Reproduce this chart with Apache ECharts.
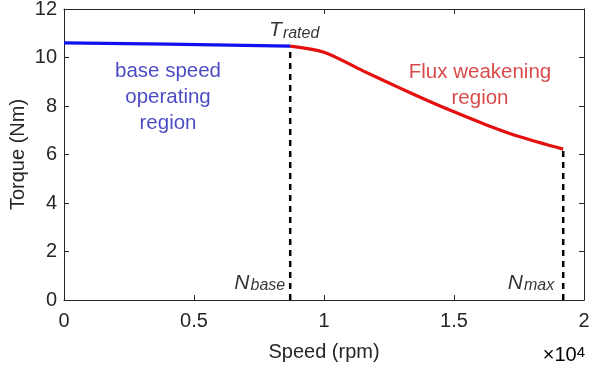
<!DOCTYPE html>
<html>
<head>
<meta charset="utf-8">
<script src="https://cdn.jsdelivr.net/npm/echarts@6/dist/echarts.min.js"></script>
<style>
  html, body { margin: 0; padding: 0; background: #fff; }
  #chart { width: 590px; height: 371px; }
</style>
</head>
<body>
<div id="chart"></div>
<script>
// Torque-speed envelope of the motor drive
var baseSpeed = [0, 4000, 8700];
var baseTorque = [10.6, 10.55, 10.47];

var fluxSpeed = [8700, 10000, 11500, 12800, 14000, 15000, 16250, 17500, 19200];
var fluxTorque = [10.47, 10.22, 9.45, 8.8, 8.22, 7.76, 7.22, 6.74, 6.22];

var xTicks = [0, 5000, 10000, 15000, 20000];
var xTickLabels = ['0', '0.5', '1', '1.5', '2'];
var yTicks = [0, 2, 4, 6, 8, 10, 12];

var nBase = 8700, tRated = 10.47;
var nMax = 19200, tMax = 6.22;

function pairs(xs, ys) {
  return xs.map(function (x, i) { return [x, ys[i]]; });
}

var FONT = '"Liberation Sans", Arial, Helvetica, sans-serif';
var INK = '#262626';

// italic symbol with a lowered subscript
var subRich = {
  big: { fontFamily: FONT, fontStyle: 'italic', fontSize: 21, lineHeight: 21, color: '#000', verticalAlign: 'top' },
  sub: { fontFamily: FONT, fontStyle: 'italic', fontSize: 16, lineHeight: 16, color: '#000', verticalAlign: 'bottom', padding: [15, 0, 0, 1] }
};

var chart = echarts.init(document.getElementById('chart'), null, { renderer: 'canvas' });

var boxAxis = {
  axisLine: { show: true, onZero: false, lineStyle: { color: INK, width: 1 } },
  axisTick: { show: true, inside: true, length: 5, lineStyle: { color: INK } },
  splitLine: { show: false }
};

chart.setOption({
  animation: false,
  backgroundColor: '#fff',
  textStyle: { fontFamily: FONT },
  grid: { left: 64, right: 6, top: 9, bottom: 71, containLabel: false, outerBoundsMode: 'none' },
  xAxis: [Object.assign({
    type: 'value', min: 0, max: 20000, interval: 5000,
    name: 'Speed (rpm)', nameLocation: 'middle', nameGap: 42, nameMoveOverlap: false,
    nameTextStyle: { fontSize: 20, color: INK, fontFamily: FONT },
    axisLabel: { fontSize: 20, color: INK, margin: 11, fontFamily: FONT,
      formatter: function (v) { var i = xTicks.indexOf(v); return i >= 0 ? xTickLabels[i] : ''; } }
  }, boxAxis), Object.assign({
    type: 'value', position: 'top', min: 0, max: 20000, interval: 5000,
    axisLabel: { show: false }
  }, boxAxis)],
  yAxis: [Object.assign({
    type: 'value', min: yTicks[0], max: yTicks[yTicks.length - 1], interval: 2,
    name: 'Torque (Nm)', nameLocation: 'middle', nameGap: 36, nameMoveOverlap: false,
    nameTextStyle: { fontSize: 20, color: INK, fontFamily: FONT },
    axisLabel: { fontSize: 20, color: INK, margin: 7, fontFamily: FONT }
  }, boxAxis), Object.assign({
    type: 'value', position: 'right', min: 0, max: 12, interval: 2,
    axisLabel: { show: false }
  }, boxAxis)],
  graphic: [{
    type: 'text', right: 5, bottom: 6,
    style: {
      text: '{a|×10}{b|4}',
      rich: {
        a: { fontFamily: FONT, fontSize: 20, color: INK, lineHeight: 20, verticalAlign: 'bottom', padding: [13, 0, 0, 0] },
        b: { fontFamily: FONT, fontSize: 15, color: INK, lineHeight: 15, verticalAlign: 'top' }
      }
    }
  }],
  series: [
    {
      type: 'line', data: [[nBase, 0], [nBase, tRated]], symbol: 'none', silent: true,
      xAxisIndex: 1, yAxisIndex: 1,
      lineStyle: { color: '#000', width: 2.5, type: [6, 5] }
    },
    {
      type: 'line', data: [[nMax, 0], [nMax, tMax]], symbol: 'none', silent: true,
      xAxisIndex: 1, yAxisIndex: 1,
      lineStyle: { color: '#000', width: 2.5, type: [6, 5] }
    },
    {
      type: 'line', data: pairs(fluxSpeed, fluxTorque), symbol: 'none', smooth: 0.3,
      lineStyle: { color: '#e50f0f', width: 3.2 }
    },
    {
      type: 'line', data: pairs(baseSpeed, baseTorque), symbol: 'none',
      lineStyle: { color: '#1010ee', width: 3.2 }
    },
    {
      type: 'scatter', symbolSize: 0, silent: true,
      data: [
        { value: [nBase, tRated], label: { show: true, position: 'top', distance: 5, offset: [4, 0],
          formatter: '{big|T}{sub|rated}', rich: subRich } },
        { value: [nBase, 0], label: { show: true, position: 'left', distance: 5, offset: [0, -17],
          formatter: '{big|N}{sub|base}', rich: subRich } },
        { value: [nMax, 0], label: { show: true, position: 'left', distance: 9, offset: [0, -17],
          formatter: '{big|N}{sub|max}', rich: subRich } },
        { value: [4000, 8.37], label: { show: true, position: 'inside', formatter: 'base speed\noperating\nregion',
          color: '#1c1cb4', fontSize: 20.5, lineHeight: 26, align: 'center', fontFamily: FONT } },
        { value: [16000, 8.87], label: { show: true, position: 'inside', formatter: 'Flux weakening\nregion',
          color: '#d01c1c', fontSize: 20.5, lineHeight: 26, align: 'center', fontFamily: FONT } }
      ]
    }
  ]
});
</script>
</body>
</html>
